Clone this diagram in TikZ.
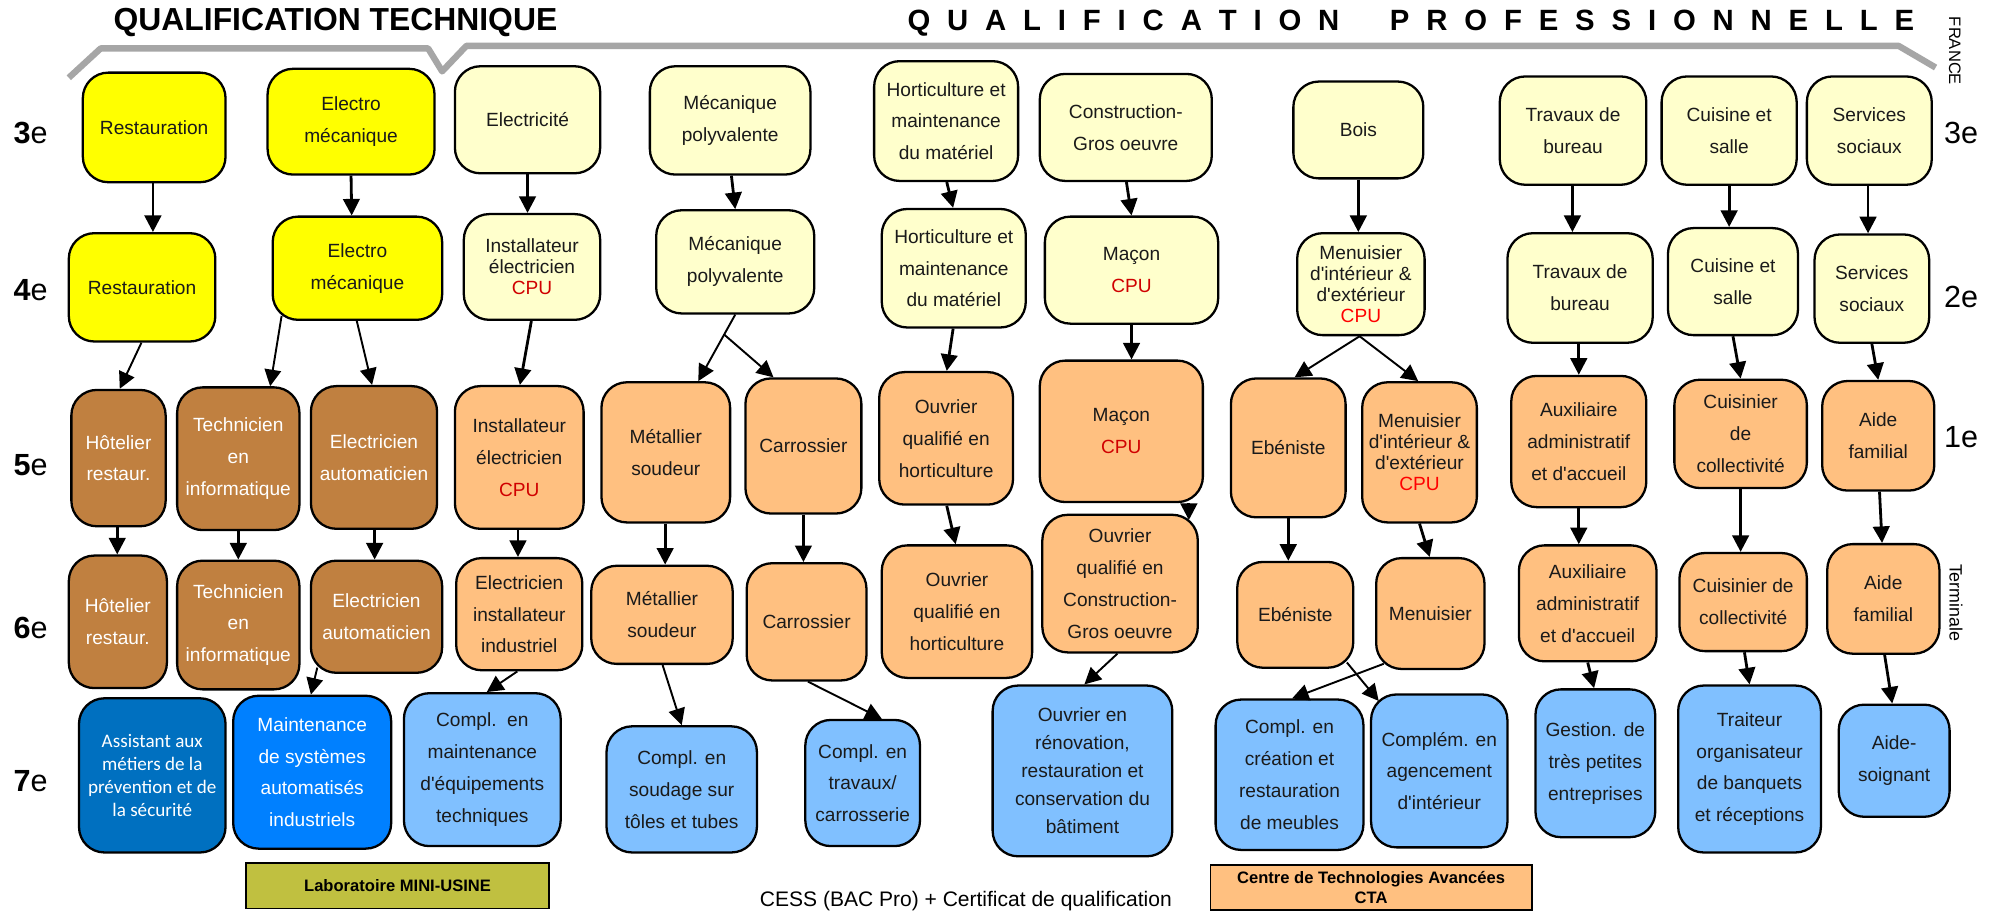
\documentclass[tikz,border=0pt]{standalone}
\usepackage{fontspec}
\setmainfont{Liberation Sans}[Ligatures=TeXOff]
\newfontfamily\carlito{Carlito}
\usetikzlibrary{arrows.meta,calc}
\definecolor{cyel}{HTML}{FFFF00}
\definecolor{clyel}{HTML}{FFFFCC}
\definecolor{cbrn}{HTML}{C08040}
\definecolor{corg}{HTML}{FFC080}
\definecolor{cdblu}{HTML}{0070C0}
\definecolor{cmblu}{HTML}{0080FF}
\definecolor{clblu}{HTML}{80C0FF}
\definecolor{colive}{HTML}{C0C040}
\definecolor{cgray}{HTML}{A6A6A6}
\definecolor{cpu}{HTML}{D00000}
\definecolor{cpub}{HTML}{FF0000}
\definecolor{ctxt}{HTML}{1A1A1A}
\newcommand\cpuR{\textcolor{cpu}{CPU}}
\newcommand\cpuB{\textcolor{cpub}{CPU}}
\tikzset{
  box/.style={draw=black, line width=1.8pt, rounded corners=20pt, align=center, inner sep=1pt, text=ctxt, font=\fontsize{15}{25}\selectfont},
  tight/.style={font=\fontsize{15}{16.5}\selectfont},
  wh/.style 2 args={minimum width=#1pt, minimum height=#2pt},
  yel/.style={fill=cyel},
  lyel/.style={fill=clyel},
  brn/.style={fill=cbrn, text=white},
  org/.style={fill=corg},
  dblu/.style={fill=cdblu, text=white},
  mblu/.style={fill=cmblu, text=white},
  lblu/.style={fill=clblu},
  arr/.style={line width=2.2pt, -{Triangle[length=13pt,width=13pt]}},
  arrt/.style={line width=1.5pt, -{Triangle[length=13pt,width=13pt]}},
  lvl/.style={font=\fontsize{24}{24}\selectfont, inner sep=0},
  legend/.style={draw=black, line width=1.5pt, inner sep=0, align=center, font=\fontsize{13}{15}\selectfont\bfseries},
}
\begin{document}
\begin{tikzpicture}[x=1pt,y=-1pt]
\fill[white] (0,0) rectangle (1568,717);
\useasboundingbox (0,0) rectangle (1568,717);

% titles and bracket
\node[anchor=west,inner sep=0,font=\fontsize{25}{25}\selectfont\bfseries] (tt) at (89,18) {QUALIFICATION TECHNIQUE};
\node[anchor=west,inner sep=0,font=\fontsize{23}{23}\selectfont\bfseries] (tp) at (712,18) {\makebox[790pt][s]{Q\hfill U\hfill A\hfill L\hfill I\hfill F\hfill I\hfill C\hfill A\hfill T\hfill I\hfill O\hfill N\hfill\hfill\hfill P\hfill R\hfill O\hfill F\hfill E\hfill S\hfill S\hfill I\hfill O\hfill N\hfill N\hfill E\hfill L\hfill L\hfill E}};
\draw[cgray, line width=5pt, line join=round] (54,61) -- (79,38) -- (336,38) -- (347,56) -- (366,36) -- (1490,36) -- (1519,53);
\node[rotate=-90,font=\fontsize{13}{13}\selectfont] (fr) at (1534,40) {FRANCE};

% level labels
\node[lvl] (l3) at (24,104) {\textbf{3}e};
\node[lvl] (l4) at (24,228) {\textbf{4}e};
\node[lvl] (l5) at (24,365) {\textbf{5}e};
\node[lvl] (l6) at (24,493) {\textbf{6}e};
\node[lvl] (l7) at (24,613) {\textbf{7}e};
\node[lvl] (r3) at (1539,104) {3e};
\node[lvl] (r2) at (1539,233) {2e};
\node[lvl] (r1) at (1539,343) {1e};
\node[rotate=-90,font=\fontsize{14}{14}\selectfont] (term) at (1535,473) {Terminale};

% row 3e
\node[box,yel,wh={112}{86}] (res3) at (121,100) {Restauration};
\node[box,yel,wh={131}{83}] (ele3) at (275.5,95.5) {Electro\\mécanique};
\node[box,lyel,wh={114}{84}] (elc3) at (414,94) {Electricité};
\node[box,lyel,wh={126}{85}] (mec3) at (573,94.5) {Mécanique\\polyvalente};
\node[box,lyel,wh={113}{94}] (hor3) at (742.5,95) {Horticulture et\\maintenance\\du matériel};
\node[box,lyel,wh={135}{84}] (con3) at (883.5,100) {Construction-\\Gros oeuvre};
\node[box,lyel,wh={102}{76}] (boi3) at (1066,102) {Bois};
\node[box,lyel,wh={115}{85}] (tra3) at (1234.5,102.5) {Travaux de\\bureau};
\node[box,lyel,wh={106}{85}] (cui3) at (1357,102.5) {Cuisine et\\salle};
\node[box,lyel,wh={98}{85}] (ser3) at (1467,102.5) {Services\\sociaux};

% row 4e / 2e
\node[box,yel,wh={115}{85}] (res4) at (111.5,225.5) {Restauration};
\node[box,yel,wh={133}{81}] (ele4) at (280.5,210.5) {Electro\\mécanique};
\node[box,lyel,tight,wh={107}{83}] (ins4) at (417.5,209.5) {Installateur\\électricien\\\cpuR};
\node[box,lyel,wh={124}{81}] (mec4) at (577,205.5) {Mécanique\\polyvalente};
\node[box,lyel,wh={113}{93}] (hor4) at (748.5,210.5) {Horticulture et\\maintenance\\du matériel};
\node[box,lyel,wh={136}{84}] (mac4) at (888,212) {Maçon\\\cpuR};
\node[box,lyel,tight,wh={100}{80}] (men4) at (1068,223) {Menuisier\\d'intérieur \&\\d'extérieur\\\cpuB};
\node[box,lyel,wh={114}{86}] (tra2) at (1240,226) {Travaux de\\bureau};
\node[box,lyel,wh={102}{84}] (cui2) at (1360,221) {Cuisine et\\salle};
\node[box,lyel,wh={90}{85}] (ser2) at (1469,226.5) {Services\\sociaux};

% row 5e / 1e
\node[box,brn,wh={74}{107}] (hot5) at (93,359.5) {Hôtelier\\restaur.};
\node[box,brn,wh={96}{112}] (tec5) at (187,360) {Technicien\\en\\informatique};
\node[box,brn,wh={99}{112}] (eau5) at (293.5,359) {Electricien\\automaticien};
\node[box,org,wh={101}{112}] (ins5) at (407.5,359) {Installateur\\électricien\\\cpuR};
\node[box,org,wh={101}{110}] (met5) at (522.5,355) {Métallier\\soudeur};
\node[box,org,wh={91}{106}] (car5) at (630.5,350) {Carrossier};
\node[box,org,wh={105}{104}] (ohr5) at (742.5,344) {Ouvrier\\qualifié en\\horticulture};
\node[box,org,wh={128}{111}] (mac5) at (880,338.5) {Maçon\\\cpuR};
\node[box,org,wh={90}{109}] (ebe5) at (1011,351.5) {Ebéniste};
\node[box,org,tight,wh={90}{110}] (mnc5) at (1114,355) {Menuisier\\d'intérieur \&\\d'extérieur\\\cpuB};
\node[box,org,wh={106}{103}] (aux5) at (1239,346.5) {Auxiliaire\\administratif\\et d'accueil};
\node[box,org,wh={104}{85}] (cun5) at (1366,340.5) {Cuisinier\\de\\collectivité};
\node[box,org,wh={88}{86}] (aid5) at (1474,342) {Aide\\familial};

% row 6e / terminale
\node[box,brn,wh={77}{104}] (hot6) at (92.5,488) {Hôtelier\\restaur.};
\node[box,brn,wh={96}{101}] (tec6) at (187,490.5) {Technicien\\en\\informatique};
\node[box,brn,wh={103}{88}] (eau6) at (295.5,484) {Electricien\\automaticien};
\node[box,org,wh={99}{88}] (eii6) at (407.5,482) {Electricien\\installateur\\industriel};
\node[box,org,wh={111}{77}] (met6) at (519.5,482.5) {Métallier\\soudeur};
\node[box,org,wh={94}{92}] (car6) at (633,488) {Carrossier};
\node[box,org,wh={118}{104}] (ohr6) at (751,480) {Ouvrier\\qualifié en\\horticulture};
\node[box,org,wh={122}{108}] (ocg6) at (879,458) {Ouvrier\\qualifié en\\Construction-\\Gros oeuvre};
\node[box,org,wh={91}{83}] (ebe6) at (1016.5,482.5) {Ebéniste};
\node[box,org,wh={85}{87}] (men6) at (1122.5,481.5) {Menuisier};
\node[box,org,wh={108}{91}] (aux6) at (1246,473.5) {Auxiliaire\\administratif\\et d'accueil};
\node[box,org,wh={100}{77}] (cun6) at (1368,472.5) {Cuisinier de\\collectivité};
\node[box,org,wh={88}{86}] (aid6) at (1478,470) {Aide\\familial};

% row 7e
\node[box,dblu,wh={115}{121},font=\carlito\fontsize{15}{18}\selectfont] (ass7) at (119.5,608.5) {Assistant aux\\métiers de la\\prévention et de\\la sécurité};
\node[box,mblu,wh={124}{120}] (msa7) at (245,606) {Maintenance\\de systèmes\\automatisés\\industriels};
\node[box,lblu,wh={123}{120}] (cme7) at (378.5,604) {Compl.~~en\\maintenance\\d'équipements\\techniques};
\node[box,lblu,wh={118}{99}] (cst7) at (535,619.5) {Compl. en\\soudage sur\\tôles et tubes};
\node[box,lblu,wh={90}{99}] (ctc7) at (677,614.5) {Compl. en\\travaux/\\carrosserie};
\node[box,lblu,wh={141}{134},font=\fontsize{15}{22}\selectfont] (orc7) at (849.5,605) {Ouvrier en\\rénovation,\\restauration et\\conservation du\\bâtiment};
\node[box,lblu,wh={116}{118}] (ccr7) at (1012,608) {Compl. en\\création et\\restauration\\de meubles};
\node[box,lblu,wh={107}{120}] (cag7) at (1129.5,605) {Complém. en\\agencement\\d'intérieur};
\node[box,lblu,wh={94}{116}] (ges7) at (1252,599) {Gestion. de\\très petites\\entreprises};
\node[box,lblu,wh={112}{131}] (trt7) at (1373,603.5) {Traiteur\\organisateur\\de banquets\\et réceptions};
\node[box,lblu,wh={87}{88}] (aso7) at (1486.5,597) {Aide-\\soignant};

% legend
\node[legend,fill=colive,minimum width=238pt,minimum height=36pt] (lab) at (312,695) {Laboratoire MINI-USINE};
\node[legend,fill=corg,minimum width=252pt,minimum height=35pt] (cta) at (1076,696.5) {Centre de Technologies Avancées\\CTA};
\node[font=\fontsize{16.5}{18}\selectfont,inner sep=0] (cess) at (758,707) {CESS (BAC Pro) + Certificat de qualification};

% arrows
\draw[arr] ([xshift=-1pt]res3.south) -- ([xshift=8.5pt]res4.north);
\draw[arrt] ([xshift=-0.5pt]res4.south) -- ([xshift=1pt]hot5.north);
\draw[arr] ([xshift=-1pt]hot5.south) -- ([xshift=-0.5pt]hot6.north);
\draw[arr] (ele3.south) -- ([xshift=-4.5pt]ele4.north);
\draw[arrt] ([xshift=-59.5pt,yshift=4pt]ele4.south) -- ([xshift=25pt]tec5.north);
\draw[arrt] ([xshift=-0.5pt]ele4.south) -- ([xshift=-1.5pt]eau5.north);
\draw[arr] (tec5.south) -- (tec6.north);
\draw[arr] ([xshift=0.5pt]eau5.south) -- ([xshift=-1.5pt]eau6.north);
\draw[arrt] ([xshift=-46.5pt,yshift=5pt]eau6.south) -- ([xshift=-1pt]msa7.north);
\draw[arr] (elc3.south) -- ([xshift=-3.5pt]ins4.north);
\draw[arr] ([xshift=-0.5pt]ins4.south) -- ([xshift=0.5pt]ins5.north);
\draw[arr] ([xshift=-1pt]ins5.south) -- ([xshift=-1pt]eii6.north);
\draw[arrt] ([xshift=-1.5pt]eii6.south) -- ([xshift=3.5pt]cme7.north);
\draw[arr] ([xshift=1pt]mec3.south) -- (mec4.north);
\draw[arrt] (mec4.south) -- ([xshift=25.5pt]met5.north);
\coordinate (mb) at ($(mec4.south)!0.3!([xshift=25.5pt]met5.north)$);
\draw[arrt] (mb) -- ([xshift=-23.5pt]car5.north);
\draw[arr] ([xshift=-0.5pt]met5.south) -- ([xshift=2.5pt]met6.north);
\draw[arrt] ([xshift=0.5pt]met6.south) -- (cst7.north);
\draw[arr] (car5.south) -- ([xshift=-2.5pt]car6.north);
\draw[arrt] ([xshift=1pt]car6.south) -- ([xshift=15pt]ctc7.north);
\draw[arr] ([xshift=0.5pt]hor3.south) -- ([xshift=-0.5pt]hor4.north);
\draw[arr] ([xshift=-0.5pt]hor4.south) -- ([xshift=0.5pt]ohr5.north);
\draw[arr] ([xshift=0.5pt]ohr5.south) -- ([xshift=-1pt]ohr6.north);
\draw[arr] ([xshift=0.5pt]con3.south) -- (mac4.north);
\draw[arr] (mac4.south) -- ([xshift=8pt]mac5.north);
\draw[arr] ([xshift=53pt]mac5.south) -- ([xshift=54pt,yshift=-5pt]ocg6.north);
\draw[arrt] ([xshift=-2pt]ocg6.south) -- ([xshift=1.5pt]orc7.north);
\draw[arr] (boi3.south) -- ([xshift=-2pt]men4.north);
\draw[arrt] ([xshift=-1pt]men4.south) -- ([xshift=5pt]ebe5.north);
\draw[arrt] ([xshift=-1pt]men4.south) -- ([xshift=-1pt]mnc5.north);
\draw[arr] (ebe5.south) -- ([xshift=-5.5pt]ebe6.north);
\draw[arr] (mnc5.south) -- ([xshift=-0.5pt]men6.north);
\draw[arrt] ([xshift=40.5pt,yshift=5pt]ebe6.south) -- ([xshift=-47.5pt,yshift=-6pt]cag7.north);
\draw[arrt] ([xshift=-36.5pt,yshift=5pt]men6.south) -- ([xshift=2pt]ccr7.north);
\draw[arr] ([xshift=-0.5pt]tra3.south) -- ([xshift=-6pt]tra2.north);
\draw[arr] ([xshift=-1pt]tra2.south) -- (aux5.north);
\draw[arr] (aux5.south) -- ([xshift=-7pt]aux6.north);
\draw[arr] (aux6.south) -- ([xshift=-1pt]ges7.north);
\draw[arr] (cui3.south) -- ([xshift=-3pt]cui2.north);
\draw[arr] (cui2.south) -- (cun5.north);
\draw[arr] (cun5.south) -- ([xshift=-2pt]cun6.north);
\draw[arr] ([xshift=1pt]cun6.south) -- (trt7.north);
\draw[arr] ([xshift=-1pt]ser3.south) -- ([xshift=-3pt]ser2.north);
\draw[arr] (ser2.south) -- (aid5.north);
\draw[arr] ([xshift=1pt]aid5.south) -- ([xshift=-1pt]aid6.north);
\draw[arr] ([xshift=1pt]aid6.south) -- ([xshift=-1.5pt]aso7.north);
\end{tikzpicture}
\end{document}
